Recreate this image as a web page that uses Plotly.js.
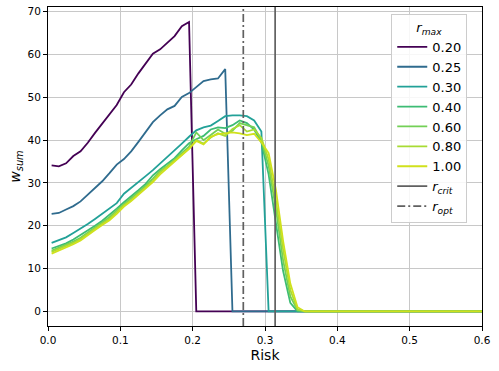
<!DOCTYPE html>
<html>
<head>
<meta charset="utf-8">
<script src="https://cdn.plot.ly/plotly-3.0.1.min.js"></script>
<style>
  html, body { margin: 0; padding: 0; background: #fff; }
  #chart { width: 499px; height: 371px; }
</style>
</head>
<body>
<div id="chart"></div>
<script>
// valeurs
var risk = [0.005, 0.015, 0.025, 0.035, 0.045, 0.055, 0.065, 0.075, 0.085, 0.095,
  0.105, 0.115, 0.125, 0.135, 0.145, 0.155, 0.165, 0.175, 0.185, 0.195,
  0.205, 0.215, 0.225, 0.235, 0.245, 0.255, 0.265, 0.275, 0.285, 0.295,
  0.305, 0.315, 0.325, 0.335, 0.345, 0.355, 0.365, 0.375, 0.385, 0.395,
  0.405, 0.415, 0.425, 0.435, 0.445, 0.455, 0.465, 0.475, 0.485, 0.495,
  0.505, 0.515, 0.525, 0.535, 0.545, 0.555, 0.565, 0.575, 0.585, 0.595, 0.605];

var w_020 = [34.1, 33.9, 34.6, 36.3, 37.4, 39.4, 41.7, 43.8, 46.0, 48.2,
  51.2, 53.0, 55.6, 57.8, 60.2, 61.2, 62.7, 64.3, 66.6, 67.6,
  0, 0, 0, 0, 0, 0, 0, 0, 0, 0, 0, 0, 0, 0, 0, 0, 0, 0, 0, 0,
  0, 0, 0, 0, 0, 0, 0, 0, 0, 0, 0, 0, 0, 0, 0, 0, 0, 0, 0, 0, 0];

var w_025 = [22.8, 23.0, 23.8, 24.6, 25.7, 27.3, 28.8, 30.4, 32.3, 34.3,
  35.6, 37.4, 39.6, 42.0, 44.2, 45.8, 47.2, 48.0, 50.1, 51.0,
  52.5, 53.8, 54.2, 54.4, 56.6,
  0, 0, 0, 0, 0, 0, 0, 0, 0, 0, 0, 0, 0, 0, 0,
  0, 0, 0, 0, 0, 0, 0, 0, 0, 0, 0, 0, 0, 0, 0, 0, 0, 0, 0, 0, 0];

var w_030 = [16.0, 16.6, 17.3, 18.3, 19.3, 20.4, 21.6, 22.9, 24.1, 25.3,
  27.5, 28.8, 30.2, 31.6, 33.0, 34.5, 36.0, 37.5, 39.2, 40.8,
  42.3, 43.0, 43.4, 44.5, 45.6, 45.8, 45.8, 45.6, 44.6, 42.0,
  0, 0, 0, 0, 0, 0, 0, 0, 0, 0,
  0, 0, 0, 0, 0, 0, 0, 0, 0, 0, 0, 0, 0, 0, 0, 0, 0, 0, 0, 0, 0];

var w_040 = [14.7, 15.3, 15.9, 16.8, 17.8, 18.9, 20.0, 21.2, 22.5, 24.0,
  25.5, 26.8, 28.3, 29.8, 31.8, 33.2, 34.5, 35.8, 37.6, 39.3,
  40.2, 41.0, 42.5, 43.0, 42.8, 43.5, 44.6, 44.0, 42.5, 39.5,
  32.0, 21.0, 9.5, 2.0, 0, 0, 0, 0, 0, 0,
  0, 0, 0, 0, 0, 0, 0, 0, 0, 0, 0, 0, 0, 0, 0, 0, 0, 0, 0, 0, 0];

var w_060 = [14.2, 14.9, 15.5, 16.3, 17.2, 18.4, 19.6, 20.8, 22.0, 23.6,
  25.0, 26.3, 27.8, 29.3, 31.0, 32.8, 34.0, 35.5, 37.0, 38.5,
  41.8, 40.0, 41.2, 42.5, 41.5, 42.2, 44.0, 43.5, 43.0, 40.0,
  34.0, 24.0, 12.0, 3.5, 0.3, 0, 0, 0, 0, 0,
  0, 0, 0, 0, 0, 0, 0, 0, 0, 0, 0, 0, 0, 0, 0, 0, 0, 0, 0, 0, 0];

var w_080 = [13.9, 14.6, 15.2, 16.0, 16.9, 18.0, 19.3, 20.5, 21.6, 23.2,
  24.8, 26.0, 27.5, 29.0, 30.5, 32.5, 33.8, 35.2, 36.6, 38.0,
  40.0, 39.2, 40.6, 41.6, 41.0, 42.6, 43.5, 42.0, 42.5, 40.5,
  35.5, 26.0, 14.5, 5.0, 0.5, 0, 0, 0, 0, 0,
  0, 0, 0, 0, 0, 0, 0, 0, 0, 0, 0, 0, 0, 0, 0, 0, 0, 0, 0, 0, 0];

var w_100 = [13.5, 14.2, 14.9, 15.7, 16.6, 17.7, 19.0, 20.2, 21.3, 22.8,
  24.5, 25.8, 27.2, 28.6, 30.2, 32.0, 33.5, 35.0, 36.4, 38.0,
  39.8, 39.0, 40.8, 41.4, 41.6, 41.8, 41.6, 41.2, 41.5, 39.5,
  37.0, 28.5, 16.5, 6.5, 1.0, 0, 0, 0, 0, 0,
  0, 0, 0, 0, 0, 0, 0, 0, 0, 0, 0, 0, 0, 0, 0, 0, 0, 0, 0, 0, 0];

var r_max_labels = ['0.20', '0.25', '0.30', '0.40', '0.60', '0.80', '1.00'];
var series = [w_020, w_025, w_030, w_040, w_060, w_080, w_100];
var couleurs = ['#440154', '#2f6b8e', '#22a198', '#3dbc74', '#73d056', '#a8db34', '#d0e11c'];

var r_crit = 0.314;
var r_opt = 0.27;
var y_range = [-3.4, 71.1];

var data = [];
for (var i = 0; i < series.length; i++) {
  data.push({
    x: risk,
    y: series[i],
    name: r_max_labels[i],
    mode: 'lines',
    line: { color: couleurs[i], width: 1.8 }
  });
}

// lignes verticales r_crit et r_opt
data.push({
  x: [r_crit, r_crit],
  y: y_range,
  name: '<i>r</i><sub><i>crit</i></sub>',
  mode: 'lines',
  line: { color: '#606060', width: 1.7 }
});
data.push({
  x: [r_opt, r_opt],
  y: y_range,
  name: '<i>r</i><sub><i>opt</i></sub>',
  mode: 'lines',
  line: { color: '#606060', width: 1.7, dash: '8px,3px,2px,3px' }
});

var axe = {
  showline: true,
  linecolor: 'black',
  linewidth: 1,
  mirror: true,
  ticks: 'outside',
  ticklen: 4,
  tickcolor: 'black',
  showgrid: true,
  gridcolor: '#c8c8c8',
  gridwidth: 1,
  zeroline: false,
  tickfont: { size: 10.5, color: 'black' }
};

var layout = {
  width: 499,
  height: 371,
  margin: { l: 48, r: 17, t: 7, b: 45 },
  paper_bgcolor: 'white',
  plot_bgcolor: 'white',
  font: { family: 'DejaVu Sans, sans-serif', color: 'black' },
  showlegend: true,
  xaxis: Object.assign({}, axe, {
    range: [0, 0.6],
    dtick: 0.1,
    tickformat: '.1f',
    title: { text: 'Risk', font: { size: 14 }, standoff: 5 }
  }),
  yaxis: Object.assign({}, axe, {
    range: y_range,
    dtick: 10,
    title: { text: '<i>w</i><sub><i>sum</i></sub>', font: { size: 14 }, standoff: 3 }
  }),
  legend: {
    x: 0.966,
    xanchor: 'right',
    y: 0.978,
    yanchor: 'top',
    bgcolor: 'rgba(255,255,255,0.85)',
    bordercolor: '#cccccc',
    borderwidth: 1,
    font: { size: 13 },
    itemwidth: 30,
    title: { text: '<i>r</i><sub><i>max</i></sub>', side: 'top center', font: { size: 13 } }
  }
};

Plotly.newPlot('chart', data, layout, { staticPlot: true });
</script>
</body>
</html>
